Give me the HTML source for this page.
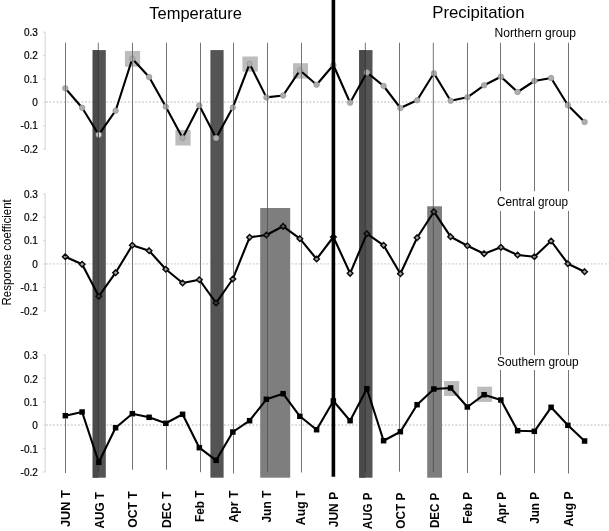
<!DOCTYPE html>
<html><head><meta charset="utf-8"><title>Response coefficients</title>
<style>html,body{margin:0;padding:0;background:#fff}svg{display:block}text{font-family:"Liberation Sans",sans-serif;fill:#000}</style>
</head><body>
<svg width="609" height="531" viewBox="0 0 609 531">
<rect width="609" height="531" fill="#fff"/>
<line x1="46" y1="102.0" x2="609" y2="102.0" stroke="#d0d0d0" stroke-width="1.3" stroke-dasharray="1.8 1.76"/>
<line x1="46" y1="263.8" x2="609" y2="263.8" stroke="#d0d0d0" stroke-width="1.3" stroke-dasharray="1.8 1.76"/>
<line x1="46" y1="425.0" x2="609" y2="425.0" stroke="#d0d0d0" stroke-width="1.3" stroke-dasharray="1.8 1.76"/>
<line x1="45.2" y1="32.2" x2="45.2" y2="149.7" stroke="#d2d2d2" stroke-width="1"/>
<line x1="43.2" y1="32.2" x2="45.2" y2="32.2" stroke="#d2d2d2" stroke-width="1"/>
<text x="37.8" y="35.7" font-size="10" text-anchor="end" stroke="#000" stroke-width="0.2">0.3</text>
<line x1="43.2" y1="55.6" x2="45.2" y2="55.6" stroke="#d2d2d2" stroke-width="1"/>
<text x="37.8" y="59.1" font-size="10" text-anchor="end" stroke="#000" stroke-width="0.2">0.2</text>
<line x1="43.2" y1="79.0" x2="45.2" y2="79.0" stroke="#d2d2d2" stroke-width="1"/>
<text x="37.8" y="82.5" font-size="10" text-anchor="end" stroke="#000" stroke-width="0.2">0.1</text>
<line x1="43.2" y1="102.4" x2="45.2" y2="102.4" stroke="#d2d2d2" stroke-width="1"/>
<text x="37.8" y="105.9" font-size="10" text-anchor="end" stroke="#000" stroke-width="0.2">0</text>
<line x1="43.2" y1="125.8" x2="45.2" y2="125.8" stroke="#d2d2d2" stroke-width="1"/>
<text x="37.8" y="129.3" font-size="10" text-anchor="end" stroke="#000" stroke-width="0.2">-0.1</text>
<line x1="43.2" y1="149.2" x2="45.2" y2="149.2" stroke="#d2d2d2" stroke-width="1"/>
<text x="37.8" y="152.7" font-size="10" text-anchor="end" stroke="#000" stroke-width="0.2">-0.2</text>
<line x1="45.2" y1="193.9" x2="45.2" y2="311.4" stroke="#d2d2d2" stroke-width="1"/>
<line x1="43.2" y1="193.9" x2="45.2" y2="193.9" stroke="#d2d2d2" stroke-width="1"/>
<text x="37.8" y="197.6" font-size="10" text-anchor="end" stroke="#000" stroke-width="0.2">0.3</text>
<line x1="43.2" y1="217.3" x2="45.2" y2="217.3" stroke="#d2d2d2" stroke-width="1"/>
<text x="37.8" y="221.0" font-size="10" text-anchor="end" stroke="#000" stroke-width="0.2">0.2</text>
<line x1="43.2" y1="240.7" x2="45.2" y2="240.7" stroke="#d2d2d2" stroke-width="1"/>
<text x="37.8" y="244.4" font-size="10" text-anchor="end" stroke="#000" stroke-width="0.2">0.1</text>
<line x1="43.2" y1="264.1" x2="45.2" y2="264.1" stroke="#d2d2d2" stroke-width="1"/>
<text x="37.8" y="267.8" font-size="10" text-anchor="end" stroke="#000" stroke-width="0.2">0</text>
<line x1="43.2" y1="287.5" x2="45.2" y2="287.5" stroke="#d2d2d2" stroke-width="1"/>
<text x="37.8" y="291.2" font-size="10" text-anchor="end" stroke="#000" stroke-width="0.2">-0.1</text>
<line x1="43.2" y1="310.9" x2="45.2" y2="310.9" stroke="#d2d2d2" stroke-width="1"/>
<text x="37.8" y="314.6" font-size="10" text-anchor="end" stroke="#000" stroke-width="0.2">-0.2</text>
<line x1="45.2" y1="355.0" x2="45.2" y2="472.5" stroke="#d2d2d2" stroke-width="1"/>
<line x1="43.2" y1="355.0" x2="45.2" y2="355.0" stroke="#d2d2d2" stroke-width="1"/>
<text x="37.8" y="359.2" font-size="10" text-anchor="end" stroke="#000" stroke-width="0.2">0.3</text>
<line x1="43.2" y1="378.4" x2="45.2" y2="378.4" stroke="#d2d2d2" stroke-width="1"/>
<text x="37.8" y="382.6" font-size="10" text-anchor="end" stroke="#000" stroke-width="0.2">0.2</text>
<line x1="43.2" y1="401.8" x2="45.2" y2="401.8" stroke="#d2d2d2" stroke-width="1"/>
<text x="37.8" y="406.0" font-size="10" text-anchor="end" stroke="#000" stroke-width="0.2">0.1</text>
<line x1="43.2" y1="425.2" x2="45.2" y2="425.2" stroke="#d2d2d2" stroke-width="1"/>
<text x="37.8" y="429.4" font-size="10" text-anchor="end" stroke="#000" stroke-width="0.2">0</text>
<line x1="43.2" y1="448.6" x2="45.2" y2="448.6" stroke="#d2d2d2" stroke-width="1"/>
<text x="37.8" y="452.8" font-size="10" text-anchor="end" stroke="#000" stroke-width="0.2">-0.1</text>
<line x1="43.2" y1="472.0" x2="45.2" y2="472.0" stroke="#d2d2d2" stroke-width="1"/>
<text x="37.8" y="476.2" font-size="10" text-anchor="end" stroke="#000" stroke-width="0.2">-0.2</text>
<rect x="124.9" y="51" width="15.2" height="15.7" fill="#bcbcbc"/>
<rect x="175.4" y="129.9" width="15.2" height="15.6" fill="#bcbcbc"/>
<rect x="242.4" y="56.5" width="15.4" height="15.1" fill="#bcbcbc"/>
<rect x="293" y="63.2" width="15.0" height="15.4" fill="#bcbcbc"/>
<rect x="444.1" y="381.0" width="15.1" height="15.0" fill="#bcbcbc"/>
<rect x="477.2" y="386.7" width="14.9" height="15.2" fill="#bcbcbc"/>
<rect x="260.2" y="208" width="30" height="269.7" fill="#7e7e7e"/>
<rect x="427.2" y="206.3" width="14.8" height="271.4" fill="#7e7e7e"/>
<rect x="92.7" y="50.1" width="13.1" height="427.6" fill="#545454"/>
<rect x="210.4" y="50.1" width="13.2" height="427.6" fill="#545454"/>
<rect x="359.2" y="50.1" width="13.3" height="427.6" fill="#545454"/>
<rect x="92.7" y="50.1" width="5.6" height="427.6" fill="#4a4a4a"/>
<rect x="359.2" y="50.1" width="6.1" height="427.6" fill="#4a4a4a"/>
<polyline points="65.3,88.3 82.1,107.7 98.8,134.7 115.6,110.7 132.3,58.8 149.1,77 165.8,106.7 182.6,138.0 199.3,105.5 216.1,138.1 232.8,107.5 249.6,63.8 266.4,97.4 283.1,95.5 299.9,70.3 316.6,84.7 333.4,65 350.1,102.7 366.9,72.4 383.6,86 400.4,108 417.1,100.3 433.9,73.3 450.6,100.7 467.4,97.3 484.1,85.3 500.9,76.7 517.6,92 534.4,81 551.1,78 567.9,105.3 584.6,122" fill="none" stroke="#000" stroke-width="2.1" stroke-linejoin="round"/>
<circle cx="65.3" cy="88.3" r="2.75" fill="#adadad" stroke="#929292" stroke-width="0.7"/>
<circle cx="82.1" cy="107.7" r="2.75" fill="#adadad" stroke="#929292" stroke-width="0.7"/>
<circle cx="98.8" cy="134.7" r="2.75" fill="#dcdcdc" stroke="#929292" stroke-width="0.7"/>
<circle cx="115.6" cy="110.7" r="2.75" fill="#adadad" stroke="#929292" stroke-width="0.7"/>
<circle cx="132.3" cy="58.8" r="2.75" fill="#adadad" stroke="#929292" stroke-width="0.7"/>
<circle cx="149.1" cy="77" r="2.75" fill="#adadad" stroke="#929292" stroke-width="0.7"/>
<circle cx="165.8" cy="106.7" r="2.75" fill="#adadad" stroke="#929292" stroke-width="0.7"/>
<circle cx="182.6" cy="138.0" r="2.75" fill="#adadad" stroke="#929292" stroke-width="0.7"/>
<circle cx="199.3" cy="105.5" r="2.75" fill="#adadad" stroke="#929292" stroke-width="0.7"/>
<circle cx="216.1" cy="138.1" r="2.75" fill="#adadad" stroke="#929292" stroke-width="0.7"/>
<circle cx="232.8" cy="107.5" r="2.75" fill="#adadad" stroke="#929292" stroke-width="0.7"/>
<circle cx="249.6" cy="63.8" r="2.75" fill="#adadad" stroke="#929292" stroke-width="0.7"/>
<circle cx="266.4" cy="97.4" r="2.75" fill="#adadad" stroke="#929292" stroke-width="0.7"/>
<circle cx="283.1" cy="95.5" r="2.75" fill="#adadad" stroke="#929292" stroke-width="0.7"/>
<circle cx="299.9" cy="70.3" r="2.75" fill="#adadad" stroke="#929292" stroke-width="0.7"/>
<circle cx="316.6" cy="84.7" r="2.75" fill="#adadad" stroke="#929292" stroke-width="0.7"/>
<circle cx="333.4" cy="65" r="2.75" fill="#adadad" stroke="#929292" stroke-width="0.7"/>
<circle cx="350.1" cy="102.7" r="2.75" fill="#adadad" stroke="#929292" stroke-width="0.7"/>
<circle cx="366.9" cy="72.4" r="2.75" fill="#adadad" stroke="#929292" stroke-width="0.7"/>
<circle cx="383.6" cy="86" r="2.75" fill="#adadad" stroke="#929292" stroke-width="0.7"/>
<circle cx="400.4" cy="108" r="2.75" fill="#adadad" stroke="#929292" stroke-width="0.7"/>
<circle cx="417.1" cy="100.3" r="2.75" fill="#adadad" stroke="#929292" stroke-width="0.7"/>
<circle cx="433.9" cy="73.3" r="2.75" fill="#adadad" stroke="#929292" stroke-width="0.7"/>
<circle cx="450.6" cy="100.7" r="2.75" fill="#adadad" stroke="#929292" stroke-width="0.7"/>
<circle cx="467.4" cy="97.3" r="2.75" fill="#adadad" stroke="#929292" stroke-width="0.7"/>
<circle cx="484.1" cy="85.3" r="2.75" fill="#adadad" stroke="#929292" stroke-width="0.7"/>
<circle cx="500.9" cy="76.7" r="2.75" fill="#adadad" stroke="#929292" stroke-width="0.7"/>
<circle cx="517.6" cy="92" r="2.75" fill="#adadad" stroke="#929292" stroke-width="0.7"/>
<circle cx="534.4" cy="81" r="2.75" fill="#adadad" stroke="#929292" stroke-width="0.7"/>
<circle cx="551.1" cy="78" r="2.75" fill="#adadad" stroke="#929292" stroke-width="0.7"/>
<circle cx="567.9" cy="105.3" r="2.75" fill="#adadad" stroke="#929292" stroke-width="0.7"/>
<circle cx="584.6" cy="122" r="2.75" fill="#adadad" stroke="#929292" stroke-width="0.7"/>
<polyline points="65.3,256.7 82.1,264.3 98.8,296.3 115.6,272.7 132.3,245.3 149.1,250.7 165.8,269.3 182.6,283 199.3,279.7 216.1,303 232.8,279 249.6,237.3 266.4,235 283.1,226.3 299.9,238.7 316.6,259 333.4,237 350.1,273.3 366.9,233.7 383.6,245.3 400.4,273.7 417.1,237.7 433.9,211.7 450.6,236.7 467.4,245.7 484.1,253.7 500.9,247.3 517.6,255 534.4,256.7 551.1,241 567.9,263.7 584.6,271.7" fill="none" stroke="#000" stroke-width="2.1" stroke-linejoin="round"/>
<path d="M65.3 253.9L68.1 256.7L65.3 259.5L62.5 256.7Z" fill="#a8a8a8" stroke="#0a0a0a" stroke-width="1.45"/>
<path d="M82.1 261.5L84.9 264.3L82.1 267.1L79.3 264.3Z" fill="#a8a8a8" stroke="#0a0a0a" stroke-width="1.45"/>
<path d="M98.8 293.5L101.6 296.3L98.8 299.1L96.0 296.3Z" fill="#3e3e3e" stroke="#0a0a0a" stroke-width="1.45"/>
<path d="M115.6 269.9L118.4 272.7L115.6 275.5L112.8 272.7Z" fill="#a8a8a8" stroke="#0a0a0a" stroke-width="1.45"/>
<path d="M132.3 242.5L135.2 245.3L132.3 248.1L129.5 245.3Z" fill="#a8a8a8" stroke="#0a0a0a" stroke-width="1.45"/>
<path d="M149.1 247.9L151.9 250.7L149.1 253.5L146.3 250.7Z" fill="#a8a8a8" stroke="#0a0a0a" stroke-width="1.45"/>
<path d="M165.8 266.5L168.7 269.3L165.8 272.1L163.0 269.3Z" fill="#a8a8a8" stroke="#0a0a0a" stroke-width="1.45"/>
<path d="M182.6 280.2L185.4 283L182.6 285.8L179.8 283Z" fill="#a8a8a8" stroke="#0a0a0a" stroke-width="1.45"/>
<path d="M199.3 276.9L202.2 279.7L199.3 282.5L196.5 279.7Z" fill="#a8a8a8" stroke="#0a0a0a" stroke-width="1.45"/>
<path d="M216.1 300.2L218.9 303L216.1 305.8L213.3 303Z" fill="#3e3e3e" stroke="#0a0a0a" stroke-width="1.45"/>
<path d="M232.8 276.2L235.7 279L232.8 281.8L230.0 279Z" fill="#a8a8a8" stroke="#0a0a0a" stroke-width="1.45"/>
<path d="M249.6 234.5L252.4 237.3L249.6 240.1L246.8 237.3Z" fill="#a8a8a8" stroke="#0a0a0a" stroke-width="1.45"/>
<path d="M266.4 232.2L269.2 235L266.4 237.8L263.6 235Z" fill="#5c5c5c" stroke="#0a0a0a" stroke-width="1.45"/>
<path d="M283.1 223.5L285.9 226.3L283.1 229.1L280.3 226.3Z" fill="#5c5c5c" stroke="#0a0a0a" stroke-width="1.45"/>
<path d="M299.9 235.9L302.7 238.7L299.9 241.5L297.1 238.7Z" fill="#a8a8a8" stroke="#0a0a0a" stroke-width="1.45"/>
<path d="M316.6 256.2L319.4 259L316.6 261.8L313.8 259Z" fill="#a8a8a8" stroke="#0a0a0a" stroke-width="1.45"/>
<path d="M333.4 234.2L336.2 237L333.4 239.8L330.6 237Z" fill="#a8a8a8" stroke="#0a0a0a" stroke-width="1.45"/>
<path d="M350.1 270.5L352.9 273.3L350.1 276.1L347.3 273.3Z" fill="#a8a8a8" stroke="#0a0a0a" stroke-width="1.45"/>
<path d="M366.9 230.9L369.7 233.7L366.9 236.5L364.1 233.7Z" fill="#3e3e3e" stroke="#0a0a0a" stroke-width="1.45"/>
<path d="M383.6 242.5L386.4 245.3L383.6 248.1L380.8 245.3Z" fill="#a8a8a8" stroke="#0a0a0a" stroke-width="1.45"/>
<path d="M400.4 270.9L403.2 273.7L400.4 276.5L397.6 273.7Z" fill="#a8a8a8" stroke="#0a0a0a" stroke-width="1.45"/>
<path d="M417.1 234.9L419.9 237.7L417.1 240.5L414.3 237.7Z" fill="#a8a8a8" stroke="#0a0a0a" stroke-width="1.45"/>
<path d="M433.9 208.9L436.7 211.7L433.9 214.5L431.1 211.7Z" fill="#5c5c5c" stroke="#0a0a0a" stroke-width="1.45"/>
<path d="M450.6 233.9L453.4 236.7L450.6 239.5L447.8 236.7Z" fill="#a8a8a8" stroke="#0a0a0a" stroke-width="1.45"/>
<path d="M467.4 242.9L470.2 245.7L467.4 248.5L464.6 245.7Z" fill="#a8a8a8" stroke="#0a0a0a" stroke-width="1.45"/>
<path d="M484.1 250.9L486.9 253.7L484.1 256.5L481.3 253.7Z" fill="#a8a8a8" stroke="#0a0a0a" stroke-width="1.45"/>
<path d="M500.9 244.5L503.7 247.3L500.9 250.1L498.1 247.3Z" fill="#a8a8a8" stroke="#0a0a0a" stroke-width="1.45"/>
<path d="M517.6 252.2L520.4 255L517.6 257.8L514.8 255Z" fill="#a8a8a8" stroke="#0a0a0a" stroke-width="1.45"/>
<path d="M534.4 253.9L537.1 256.7L534.4 259.5L531.6 256.7Z" fill="#a8a8a8" stroke="#0a0a0a" stroke-width="1.45"/>
<path d="M551.1 238.2L553.9 241L551.1 243.8L548.3 241Z" fill="#a8a8a8" stroke="#0a0a0a" stroke-width="1.45"/>
<path d="M567.9 260.9L570.6 263.7L567.9 266.5L565.1 263.7Z" fill="#a8a8a8" stroke="#0a0a0a" stroke-width="1.45"/>
<path d="M584.6 268.9L587.4 271.7L584.6 274.5L581.8 271.7Z" fill="#a8a8a8" stroke="#0a0a0a" stroke-width="1.45"/>
<polyline points="65.3,415.7 82.1,412 98.8,462.3 115.6,427.7 132.3,413.7 149.1,417.3 165.8,423.3 182.6,414.3 199.3,447.7 216.1,460.3 232.8,432 249.6,420.7 266.4,399.3 283.1,393.7 299.9,416.3 316.6,429.7 333.4,401 350.1,420.7 366.9,388.7 383.6,440.7 400.4,431.7 417.1,404.7 433.9,389 450.6,388 467.4,407 484.1,394.7 500.9,400 517.6,430.7 534.4,431.3 551.1,407.3 567.9,425.3 584.6,441" fill="none" stroke="#000" stroke-width="2.1" stroke-linejoin="round"/>
<rect x="62.60" y="412.95" width="5.5" height="5.5" fill="#000"/>
<rect x="79.35" y="409.25" width="5.5" height="5.5" fill="#000"/>
<rect x="96.10" y="459.55" width="5.5" height="5.5" fill="#000"/>
<rect x="112.85" y="424.95" width="5.5" height="5.5" fill="#000"/>
<rect x="129.60" y="410.95" width="5.5" height="5.5" fill="#000"/>
<rect x="146.35" y="414.55" width="5.5" height="5.5" fill="#000"/>
<rect x="163.10" y="420.55" width="5.5" height="5.5" fill="#000"/>
<rect x="179.85" y="411.55" width="5.5" height="5.5" fill="#000"/>
<rect x="196.60" y="444.95" width="5.5" height="5.5" fill="#000"/>
<rect x="213.35" y="457.55" width="5.5" height="5.5" fill="#000"/>
<rect x="230.10" y="429.25" width="5.5" height="5.5" fill="#000"/>
<rect x="246.85" y="417.95" width="5.5" height="5.5" fill="#000"/>
<rect x="263.60" y="396.55" width="5.5" height="5.5" fill="#000"/>
<rect x="280.35" y="390.95" width="5.5" height="5.5" fill="#000"/>
<rect x="297.10" y="413.55" width="5.5" height="5.5" fill="#000"/>
<rect x="313.85" y="426.95" width="5.5" height="5.5" fill="#000"/>
<rect x="330.60" y="398.25" width="5.5" height="5.5" fill="#000"/>
<rect x="347.35" y="417.95" width="5.5" height="5.5" fill="#000"/>
<rect x="364.10" y="385.95" width="5.5" height="5.5" fill="#000"/>
<rect x="380.85" y="437.95" width="5.5" height="5.5" fill="#000"/>
<rect x="397.60" y="428.95" width="5.5" height="5.5" fill="#000"/>
<rect x="414.35" y="401.95" width="5.5" height="5.5" fill="#000"/>
<rect x="431.10" y="386.25" width="5.5" height="5.5" fill="#000"/>
<rect x="447.85" y="385.25" width="5.5" height="5.5" fill="#000"/>
<rect x="464.60" y="404.25" width="5.5" height="5.5" fill="#000"/>
<rect x="481.35" y="391.95" width="5.5" height="5.5" fill="#000"/>
<rect x="498.10" y="397.25" width="5.5" height="5.5" fill="#000"/>
<rect x="514.85" y="427.95" width="5.5" height="5.5" fill="#000"/>
<rect x="531.60" y="428.55" width="5.5" height="5.5" fill="#000"/>
<rect x="548.35" y="404.55" width="5.5" height="5.5" fill="#000"/>
<rect x="565.10" y="422.55" width="5.5" height="5.5" fill="#000"/>
<rect x="581.85" y="438.25" width="5.5" height="5.5" fill="#000"/>
<g style="mix-blend-mode:darken">
<line x1="65.5" y1="42.8" x2="65.5" y2="473" stroke="#737373" stroke-width="1"/>
<line x1="98.3" y1="42.8" x2="98.3" y2="50.1" stroke="#737373" stroke-width="1"/>
<line x1="98.3" y1="50.1" x2="98.3" y2="471.7" stroke="#3a3a3a" stroke-width="1"/>
<line x1="132.5" y1="42.8" x2="132.5" y2="469.8" stroke="#737373" stroke-width="1"/>
<line x1="166.5" y1="42.8" x2="166.5" y2="469.8" stroke="#737373" stroke-width="1"/>
<line x1="200.5" y1="42.8" x2="200.5" y2="472.2" stroke="#737373" stroke-width="1"/>
<line x1="233.5" y1="42.8" x2="233.5" y2="473.5" stroke="#737373" stroke-width="1"/>
<line x1="267.5" y1="42.8" x2="267.5" y2="208" stroke="#737373" stroke-width="1"/>
<line x1="267.5" y1="208" x2="267.5" y2="471.7" stroke="#585858" stroke-width="1"/>
<line x1="301.5" y1="42.8" x2="301.5" y2="472.5" stroke="#737373" stroke-width="1"/>
<line x1="365.3" y1="42.8" x2="365.3" y2="50.1" stroke="#737373" stroke-width="1"/>
<line x1="365.3" y1="50.1" x2="365.3" y2="472.7" stroke="#3a3a3a" stroke-width="1"/>
<line x1="399.5" y1="42.8" x2="399.5" y2="471.7" stroke="#737373" stroke-width="1"/>
<line x1="433.3" y1="42.8" x2="433.3" y2="206.3" stroke="#737373" stroke-width="1"/>
<line x1="433.3" y1="206.3" x2="433.3" y2="472.2" stroke="#585858" stroke-width="1"/>
<line x1="467.5" y1="42.8" x2="467.5" y2="473" stroke="#737373" stroke-width="1"/>
<line x1="500.5" y1="42.8" x2="500.5" y2="475.2" stroke="#737373" stroke-width="1"/>
<line x1="534.5" y1="42.8" x2="534.5" y2="473.2" stroke="#737373" stroke-width="1"/>
<line x1="568.5" y1="42.8" x2="568.5" y2="473.5" stroke="#737373" stroke-width="1"/>
</g>
<line x1="333.4" y1="0" x2="333.4" y2="476.7" stroke="#000" stroke-width="3.6"/>
<rect x="494" y="191.2" width="78" height="19.7" fill="#fff"/>
<rect x="494" y="355.2" width="88" height="14.8" fill="#fff"/>
<text x="149.3" y="18.9" font-size="16.2" textLength="92.5" lengthAdjust="spacingAndGlyphs">Temperature</text>
<text x="432.3" y="18.4" font-size="16.2" textLength="92.2" lengthAdjust="spacingAndGlyphs">Precipitation</text>
<text x="494.6" y="37" font-size="12.1" textLength="81.3" lengthAdjust="spacingAndGlyphs">Northern group</text>
<text x="497.1" y="205.7" font-size="12.1" textLength="70.9" lengthAdjust="spacingAndGlyphs">Central group</text>
<text x="497.1" y="365.6" font-size="12.1" textLength="81.6" lengthAdjust="spacingAndGlyphs">Southern group</text>
<text transform="translate(10.9 305.5) rotate(-90)" font-size="11.9" textLength="106.2" lengthAdjust="spacingAndGlyphs">Response coefficient</text>
<text transform="translate(70.2 527.05) rotate(-90)" font-size="12.6" font-weight="bold" textLength="36.8" lengthAdjust="spacingAndGlyphs">JUN T</text>
<text transform="translate(103.8 528.55) rotate(-90)" font-size="12.6" font-weight="bold" textLength="36.5" lengthAdjust="spacingAndGlyphs">AUG T</text>
<text transform="translate(137.2 527.65) rotate(-90)" font-size="12.6" font-weight="bold" textLength="36.4" lengthAdjust="spacingAndGlyphs">OCT T</text>
<text transform="translate(170.8 528.05) rotate(-90)" font-size="12.6" font-weight="bold" textLength="36.4" lengthAdjust="spacingAndGlyphs">DEC T</text>
<text transform="translate(204.2 522.05) rotate(-90)" font-size="12.6" font-weight="bold" textLength="31.5" lengthAdjust="spacingAndGlyphs">Feb T</text>
<text transform="translate(237.8 522.55) rotate(-90)" font-size="12.6" font-weight="bold" textLength="32.0" lengthAdjust="spacingAndGlyphs">Apr T</text>
<text transform="translate(271.2 522.55) rotate(-90)" font-size="12.6" font-weight="bold" textLength="32.0" lengthAdjust="spacingAndGlyphs">Jun T</text>
<text transform="translate(304.8 525.15) rotate(-90)" font-size="12.6" font-weight="bold" textLength="34.6" lengthAdjust="spacingAndGlyphs">Aug T</text>
<text transform="translate(338.2 527.25) rotate(-90)" font-size="12.6" font-weight="bold" textLength="35.4" lengthAdjust="spacingAndGlyphs">JUN P</text>
<text transform="translate(371.8 529.15) rotate(-90)" font-size="12.6" font-weight="bold" textLength="36.5" lengthAdjust="spacingAndGlyphs">AUG P</text>
<text transform="translate(405.2 528.65) rotate(-90)" font-size="12.6" font-weight="bold" textLength="36.0" lengthAdjust="spacingAndGlyphs">OCT P</text>
<text transform="translate(438.8 528.05) rotate(-90)" font-size="12.6" font-weight="bold" textLength="35.4" lengthAdjust="spacingAndGlyphs">DEC P</text>
<text transform="translate(472.2 523.85) rotate(-90)" font-size="12.6" font-weight="bold" textLength="32.0" lengthAdjust="spacingAndGlyphs">Feb P</text>
<text transform="translate(505.8 523.85) rotate(-90)" font-size="12.6" font-weight="bold" textLength="32.0" lengthAdjust="spacingAndGlyphs">Apr P</text>
<text transform="translate(539.2 523.85) rotate(-90)" font-size="12.6" font-weight="bold" textLength="32.0" lengthAdjust="spacingAndGlyphs">Jun P</text>
<text transform="translate(572.8 526.55) rotate(-90)" font-size="12.6" font-weight="bold" textLength="35.2" lengthAdjust="spacingAndGlyphs">Aug P</text>
</svg>
</body></html>
